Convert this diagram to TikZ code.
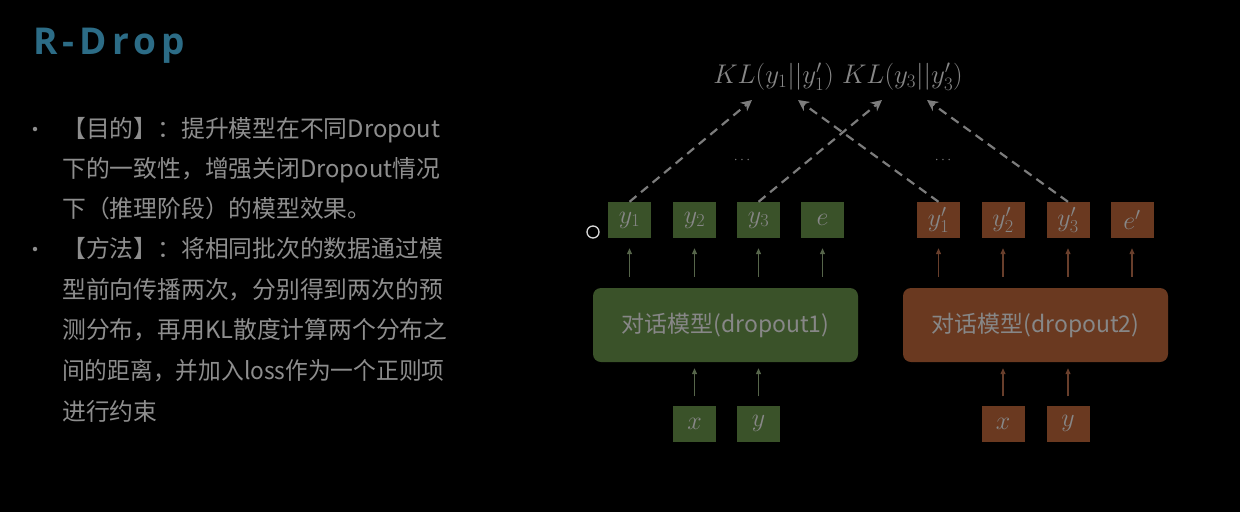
\RequirePackage{fix-cm}
\documentclass[tikz,border=0pt]{standalone}
\usepackage{fontspec}
\usepackage{graphicx}
\usetikzlibrary{arrows.meta}
\newfontfamily\cjk{Noto Sans CJK SC}
\newfontfamily\titlefont{Open Sans}[LetterSpace=14]
\definecolor{titlecol}{HTML}{2C6C86}
\definecolor{txtgray}{HTML}{8E8E8E}
\definecolor{gfill}{HTML}{3A5229}
\definecolor{ofill}{HTML}{6A3920}
\definecolor{boxtext}{HTML}{878787}
\definecolor{dashcol}{HTML}{7C7C7C}
\definecolor{garr}{HTML}{56654A}
\definecolor{oarr}{HTML}{683E2B}
\tikzset{
  line/.style={anchor=base west, inner sep=0, text=txtgray, font=\cjk\fontsize{23.8}{24}\selectfont},
  bulletdot/.style={circle, fill=txtgray, inner sep=0, minimum size=4.5pt},
  gbox/.style={fill=gfill, minimum width=43pt, minimum height=36pt, inner sep=0, text=boxtext, font=\fontsize{26}{26}\selectfont},
  obox/.style={gbox, fill=ofill},
  gmodel/.style={fill=gfill, rounded corners=8pt, minimum width=265pt, minimum height=74pt, inner sep=0, text=boxtext, font=\cjk\fontsize{23}{24}\selectfont},
  omodel/.style={gmodel, fill=ofill},
  garrow/.style={draw=garr, line width=1.2pt, -{Triangle[length=6pt,width=5pt]}},
  oarrow/.style={draw=oarr, line width=1.2pt, -{Triangle[length=6pt,width=5pt]}},
  dasharrow/.style={draw=dashcol, line width=2.2pt, dash pattern=on 9pt off 6pt, -{Stealth[length=11pt,width=11pt]}},
}
\begin{document}
\begin{tikzpicture}[x=1pt,y=-1pt]
\fill[black] (0,0) rectangle (1240,512);
\useasboundingbox (0,0) rectangle (1240,512);
% title
\node[anchor=base west, inner sep=0, text=titlecol, font=\titlefont\bfseries\fontsize{37}{38}\selectfont] (title) at (33,54) {R-Drop};
% bullets
\node[bulletdot] (b1) at (35,129) {};
\node[bulletdot] (b2) at (35,249) {};
\node[line] (l1) at (62,137) {【目的】：提升模型在不同Dropout};
\node[line] (l2) at (62,177) {下的一致性，增强关闭Dropout情况};
\node[line] (l3) at (62,217) {下（推理阶段）的模型效果。};
\node[line] (l4) at (62,257) {【方法】：将相同批次的数据通过模};
\node[line] (l5) at (62,298) {型前向传播两次，分别得到两次的预};
\node[line] (l6) at (62,338) {测分布，再用KL散度计算两个分布之};
\node[line] (l7) at (62,379) {\scalebox{0.955}[1]{间的距离，并加入loss作为一个正则项}};
\node[line] (l8) at (62,420) {进行约束};
% KL label
\node[inner sep=0, text=boxtext, font=\fontsize{27}{28}\selectfont] (kl) at (838,77) {$KL(y_1||y_1')\ KL(y_3||y_3')$};
\coordinate (k1) at (752,100);
\coordinate (k2) at (798,100);
\coordinate (k3) at (882,100);
\coordinate (k4) at (927,100);
% dots
\node[text=dashcol, font=\fontsize{14}{14}\selectfont, inner sep=0] (d1) at (742,160) {$\cdots$};
\node[text=dashcol, font=\fontsize{14}{14}\selectfont, inner sep=0] (d2) at (943,160) {$\cdots$};
% output boxes
\node[gbox] (y1) at (629.5,220) {$y_1$};
\node[gbox] (y2) at (694.5,220) {$y_2$};
\node[gbox] (y3) at (758.5,220) {$y_3$};
\node[gbox] (e) at (822.5,220) {$e$};
\node[obox] (p1) at (938.5,220) {$y_1'$};
\node[obox] (p2) at (1003,220) {$y_2'$};
\node[obox] (p3) at (1068,220) {$y_3'$};
\node[obox] (pe) at (1132,220) {$e'$};
% models
\node[gmodel] (m1) at (725.5,325) {对话模型(dropout1)};
\node[omodel] (m2) at (1035.5,325) {对话模型(dropout2)};
% inputs
\node[gbox] (x1) at (694.5,423.5) {$x$};
\node[gbox] (yy1) at (758.5,423.5) {$y$};
\node[obox] (x2) at (1003,423.5) {$x$};
\node[obox] (yy2) at (1068,423.5) {$y$};
% small arrows model -> outputs
\foreach \n in {y1,y2,y3,e}{
  \draw[garrow, shorten <=11pt, shorten >=10pt] (\n.south |- m1.north) -- (\n.south);
}
\foreach \n in {p1,p2,p3,pe}{
  \draw[oarrow, shorten <=11pt, shorten >=10pt] (\n.south |- m2.north) -- (\n.south);
}
% input arrows
\foreach \n in {x1,yy1}{
  \draw[garrow, shorten <=9pt, shorten >=6pt] (\n.north) -- (\n.north |- m1.south);
}
\foreach \n in {x2,yy2}{
  \draw[oarrow, shorten <=9pt, shorten >=6pt] (\n.north) -- (\n.north |- m2.south);
}
% dashed arrows
\draw[dasharrow] (y1.north) -- (k1);
\draw[dasharrow] (y3.north) -- (k3);
\draw[dasharrow] (p1.north) -- (k2);
\draw[dasharrow] (p3.north) -- (k4);
% small circle
\draw[white!85!black, line width=1.3pt] (593,232) circle (6pt);
\end{tikzpicture}
\end{document}
